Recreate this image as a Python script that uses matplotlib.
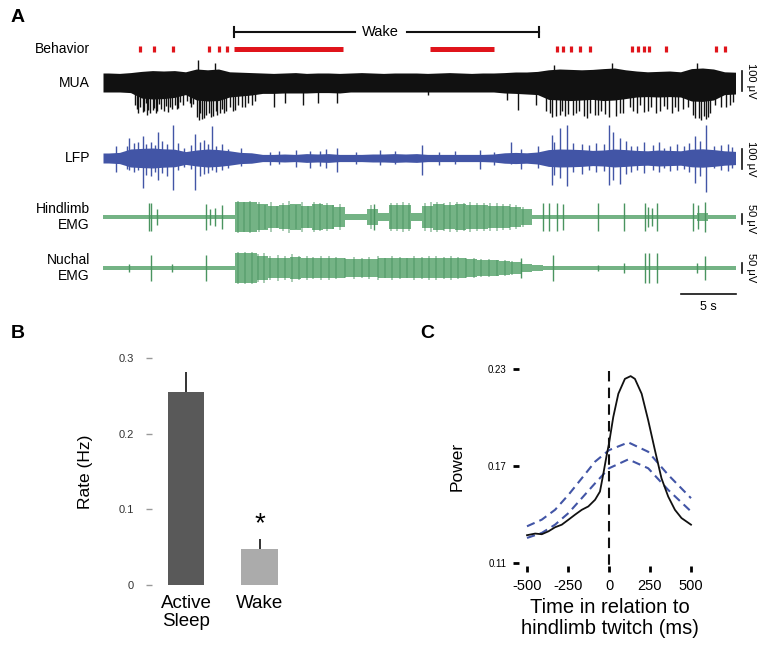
import matplotlib
matplotlib.use('Agg')
import matplotlib.pyplot as plt
import numpy as np

W, H = 764, 652

# ---------------- panel A data (time in s, amplitudes in uV) ----------------
T_END = 57.5
twitch_t = [3.4, 4.6, 6.4, 9.6, 10.5, 11.3, 41.3, 41.8, 42.5, 43.4, 44.3,
            48.1, 48.6, 49.2, 49.6, 51.2, 55.7, 56.5]
wake_start = [11.9, 29.7]
wake_end = [21.8, 35.5]
wake_span = [11.9, 39.6]

# envelopes per 1 s bin (t = 0..57)
mua_up = [50, 48, 52, 58, 62, 60, 62, 56, 70, 66, 70, 56, 54, 52,
          50, 48, 50, 52, 48, 50, 50, 48, 50, 52, 50, 48, 50, 50, 50,
          48, 50, 52, 50, 48, 50, 50, 52, 55, 55, 58,
          66, 70, 68, 66, 68, 72, 75, 66, 60, 56, 58, 60, 56, 72, 75, 70, 56, 54]
mua_dn = [45, 45, 48, 75, 80, 78, 72, 58, 85, 90, 88, 70, 65, 60,
          52, 52, 50, 50, 50, 48, 48, 50, 45, 45, 45, 45, 45, 45, 45,
          45, 45, 45, 45, 45, 45, 45, 50, 52, 55, 58,
          82, 85, 88, 85, 82, 88, 85, 78, 70, 68, 70, 68, 70, 90, 92, 85, 58, 55]
mua_spk_t = [3.2, 3.7, 4.0, 4.5, 4.8, 5.5, 6.3, 6.8, 7.3, 8.0, 8.6, 8.7, 9.2, 9.8, 10.2,
             10.4, 11.0, 11.8, 12.6, 13.5, 15.5, 16.5, 18.2, 19.5, 21.3, 29.5, 36.7, 37.7,
             39.4, 40.8, 41.0, 41.5, 42.0, 43.0, 44.0, 45.0, 46.0, 46.3, 47.0, 48.5, 49.5,
             50.3, 51.3, 52.3, 53.8, 54.0, 54.4, 55.0, 56.2, 57.0,
             2.9, 3.1, 3.4, 3.6, 3.9, 4.1, 4.3, 4.6, 4.9, 5.1, 5.3, 5.7, 5.9, 6.1, 6.5,
             6.7, 7.0, 7.6, 7.9, 8.2, 8.5, 8.8, 9.0, 9.4, 9.6, 10.0, 10.3, 10.6, 10.8,
             11.2, 11.5, 12.0, 12.3, 12.9, 13.2, 13.8,
             40.3, 40.6, 41.2, 41.7, 42.3, 42.7, 43.3, 43.7, 44.3, 44.7, 45.3, 45.6,
             46.6, 47.3, 47.9, 48.2, 48.8, 49.2, 49.8, 50.6, 51.0, 51.7, 52.0, 52.7,
             53.2, 53.6, 54.2, 54.6, 54.8, 55.2, 55.6, 56.6, 57.3]
mua_spk_a = [-150, -140, -160, -135, -150, -140, -130, -125, -110, -120, 115, -185, -175,
             -170, 100, -160, -150, -140, -120, -110, -120, -100, -110, -100, -100, -60, -85,
             -135, -110, -170, 90, -160, -165, -150, -175, -160, -170, 100, -150, -150, -140,
             -150, -130, -140, -175, 100, -185, -170, -120, -110,
             -110, -130, -120, -145, -100, -135, -150, -125, -140, -105, -130, -115, -145,
             -120, -110, -130, -95, -90, -100, -105, -170, -150, -180, -160, -150, -165,
             -140, -150, -130, -140, -120, -135, -110, -120, -100, -90,
             -140, -150, -165, -140, -155, -160, -140, -165, -150, -160, -140, -155,
             -165, -150, -120, -140, -110, -145, -120, -140, -115, -150, -120, -130,
             -120, -160, -175, -165, -180, -150, -110, -120, -95]

lfp_env = [25, 28, 45, 48, 50, 46, 44, 32, 40, 45, 42, 36, 28, 26,
           18, 18, 20, 18, 22, 20, 22, 18, 18, 18, 20, 20, 22, 20, 22,
           18, 18, 18, 18, 18, 18, 20, 26, 28, 26, 30,
           42, 45, 44, 42, 38, 40, 45, 42, 38, 36, 40, 38, 36, 44, 46, 42, 36, 33]
lfp_spk_t = [1.2, 2.4, 3.6, 4.4, 5.0, 6.4, 8.4, 9.2, 9.9, 10.8, 12.5, 18.8, 21.3, 29.0,
             34.3, 37.1, 40.8, 41.5, 42.2, 46.0, 46.4, 47.0, 48.5, 51.0, 53.8, 54.8, 55.5,
             2.2, 2.8, 3.2, 3.9, 4.7, 5.4, 5.8, 6.8, 7.4, 8.0, 8.8, 9.5, 10.3, 11.4,
             15.2, 16.0, 17.5, 19.7, 20.3, 23.0, 25.2, 26.5, 30.5, 32.0, 35.5, 38.0, 39.5,
             41.0, 42.7, 43.5, 44.2, 44.8, 45.5, 47.5, 48.0, 49.2, 50.0, 50.5, 51.5, 52.2,
             52.8, 53.3, 54.3, 56.2, 56.8, 57.2]
lfp_spk_up = [60, 100, 110, 80, 130, 165, 120, 90, 160, 70, 50, 35, 50, 65, 40, 80, 115,
              150, 165, 165, 130, 100, 60, 50, 110, 165, 60,
              60, 75, 80, 70, 65, 85, 70, 75, 50, 65, 80, 70, 60, 45,
              30, 35, 40, 35, 45, 30, 40, 35, 30, 35, 30, 45, 60,
              80, 75, 70, 65, 75, 70, 85, 60, 80, 65, 80, 60, 70,
              60, 75, 85, 65, 70, 55]
lfp_spk_dn = [-70, -60, -150, -90, -110, -160, -160, -80, -60, -60, -40, -50, -70, -85,
              -55, -30, -135, -100, -140, -135, -110, -130, -60, -50, -125, -170, -50,
              -55, -70, -60, -85, -70, -75, -90, -60, -45, -55, -90, -75, -70, -50,
              -35, -30, -45, -40, -50, -30, -35, -30, -35, -30, -35, -55, -50,
              -85, -70, -80, -60, -70, -65, -80, -70, -75, -60, -70, -65, -60,
              -55, -70, -90, -60, -65, -50]

hl_env = [10, 10, 12, 10, 10, 12, 10, 10, 10, 12, 10, 10,
          74, 74, 66, 56, 62, 66, 56, 66, 62, 52, 15, 15, 42, 18, 62, 62, 18,
          56, 66, 62, 66, 62, 62, 56, 56, 52, 38, 12,
          10, 10, 10, 10, 10, 10, 10, 10, 10, 10, 10, 10, 10, 10, 22, 10, 10, 10]
hl_spk_t = [4.2, 4.4, 4.9, 9.4, 9.7, 10.2, 10.8, 24.6, 40.0, 40.5, 41.3, 41.8, 45.0,
            47.4, 49.3, 49.5, 49.9, 50.4, 53.6, 54.1, 54.7]
hl_spk_a = [70, 70, 40, 65, 40, 45, 60, 65, 70, 70, 70, 65, 70, 70, 70, 50, 45, 70, 70,
            60, 75]
hl_burst_t = [12.3, 12.8, 13.4, 14.2, 14.7, 15.3, 15.8, 16.4, 16.9, 17.5, 18.1, 18.6, 19.2,
              19.7, 20.4, 20.9, 21.5, 24.4, 26.2, 26.7, 27.3, 27.8, 29.3, 29.8, 30.4, 31.0,
              31.5, 32.2, 32.8, 33.4, 34.0, 34.6, 35.2, 35.8, 36.4, 37.0, 37.5, 38.2]
hl_burst_a = [78, 76, 78, 76, 62, 75, 55, 72, 78, 60, 75, 55, 76, 70, 72, 60, 65, 62,
              72, 70, 75, 70, 70, 75, 76, 72, 75, 76, 72, 75, 70, 72, 68, 70, 65, 65, 60, 50]

nu_env = [10, 10, 12, 10, 10, 10, 10, 10, 10, 10, 10, 10,
          74, 74, 62, 52, 52, 55, 52, 48, 50, 48, 44, 44, 46, 48, 50, 48, 48,
          48, 52, 48, 48, 44, 38, 38, 36, 28, 20, 16,
          8, 8, 8, 8, 8, 8, 8, 8, 8, 8, 8, 8, 8, 8, 8, 8, 8, 8]
nu_spk_t = [2.4, 4.4, 6.3, 9.4, 38.0, 40.9, 45.0, 47.4, 49.3, 49.6, 50.4, 54.0, 54.7]
nu_spk_a = [20, 65, 20, 65, 50, 65, 15, 25, 75, 75, 75, 25, 60]
nu_burst_t = [12.3, 12.9, 13.5, 14.1, 14.6, 15.2, 15.9, 16.5, 17.2, 17.8, 18.5, 19.1, 19.8,
              20.5, 21.2, 22.0, 22.8, 23.5, 24.2, 25.0, 25.6, 26.3, 27.0, 27.6, 28.3, 29.0,
              29.6, 30.3, 31.0, 31.6, 32.3, 33.0, 33.7, 34.4, 35.1, 35.8, 36.5, 37.2]
nu_burst_a = [80, 78, 80, 72, 75, 62, 65, 60, 68, 62, 58, 55, 60, 58, 55, 52, 55, 50, 55,
              60, 52, 58, 55, 52, 60, 55, 62, 60, 55, 58, 55, 52, 48, 45, 45, 42, 40, 35]

# ---------------- panel B data ----------------
b_labels = ['Active\nSleep', 'Wake']
b_rate = [0.255, 0.048]
b_sem = [0.026, 0.013]

# ---------------- panel C data ----------------
c_t_black = [-500, -450, -410, -369, -329, -288, -247, -207, -166, -126, -85, -55, -34,
             -14, 0, 26, 57, 97, 132, 158, 199, 239, 280, 320, 361, 402, 442, 500]
c_black = [0.1272, 0.1282, 0.1278, 0.1296, 0.1321, 0.1337, 0.1368, 0.1399, 0.1429, 0.1450,
           0.1491, 0.1542, 0.1655, 0.1768, 0.1839, 0.2003, 0.2147, 0.2239, 0.2256, 0.2239,
           0.2147, 0.1983, 0.1798, 0.1624, 0.1511, 0.1429, 0.1378, 0.1337]
c_t_blue = [-500, -410, -329, -247, -166, -85, 0, 118, 239, 361, 500]
c_blue_hi = [0.1327, 0.1368, 0.1429, 0.1522, 0.1624, 0.1727, 0.1798, 0.1846, 0.1788,
             0.1645, 0.1501]
c_blue_lo = [0.1255, 0.1286, 0.1337, 0.1409, 0.1501, 0.1593, 0.1686, 0.1741, 0.1686,
             0.1552, 0.1419]

BLACK = '#111111'
BLUE = '#4255a6'
GREEN = '#74b385'
DGREEN = '#4a9460'
RED = '#e0141b'

plt.rcParams['font.family'] = ['Liberation Sans', 'DejaVu Sans']

fig = plt.figure(figsize=(W / 100, H / 100), dpi=100)


def fx(px):
    return px / W


def fy(py):
    return 1 - py / H


# ================= panel A =================
PXS = 11.0   # px per second
UVP = 5.0    # uV per px
A_TOP, A_BOT = 0, 320
axA = fig.add_axes([0, fy(A_BOT), 1, (A_BOT - A_TOP) / H])
axA.set_xlim(-103 / PXS, (W - 103) / PXS)
axA.set_ylim(-A_BOT * UVP, -A_TOP * UVP)
axA.axis('off')


def yp(py):
    return -py * UVP


def band(env_up, env_dn, base, color, step):
    if step:
        t = np.append(np.arange(len(env_up)), T_END)
        up = np.append(env_up, env_up[-1])
        dn = np.append(env_dn, env_dn[-1])
        axA.fill_between(t, base - dn, base + up, step='post', color=color, lw=0)
    else:
        t = np.concatenate([[0], np.arange(len(env_up)) + 0.5, [T_END]])
        up = np.concatenate([[env_up[0]], env_up, [env_up[-1]]])
        dn = np.concatenate([[env_dn[0]], env_dn, [env_dn[-1]]])
        axA.fill_between(t, base - dn, base + up, color=color, lw=0)


# wake bracket
yb = yp(32)
axA.plot([wake_span[0], 22.9], [yb, yb], color=BLACK, lw=1.5)
axA.plot([27.6, wake_span[1]], [yb, yb], color=BLACK, lw=1.5)
for xx in wake_span:
    axA.plot([xx, xx], [yb - 25, yb + 25], color=BLACK, lw=1.5)
axA.text(25.25, yb, 'Wake', ha='center', va='center', fontsize=10.5)

# behaviour
ybh = yp(49)
axA.vlines(twitch_t, ybh - 14, ybh + 14, color=RED, lw=2.3)
axA.hlines([ybh] * 2, wake_start, wake_end, color=RED, lw=3.6)

lab_x = (90 - 103) / PXS
axA.text(lab_x, ybh, 'Behavior', ha='right', va='center', fontsize=10)

# MUA
b = yp(83)
band(mua_up, mua_dn, b, BLACK, False)
axA.vlines(mua_spk_t, b, b + np.array(mua_spk_a), color=BLACK, lw=1)
axA.text(lab_x, b, 'MUA', ha='right', va='center', fontsize=10)

# LFP
b = yp(158)
band(lfp_env, lfp_env, b, BLUE, False)
axA.vlines(lfp_spk_t, b + np.array(lfp_spk_dn), b + np.array(lfp_spk_up), color=BLUE, lw=1)
axA.text(lab_x, b, 'LFP', ha='right', va='center', fontsize=10)

# Hindlimb EMG
b = yp(217)
band(hl_env, hl_env, b, GREEN, True)
axA.vlines(hl_burst_t, b - np.array(hl_burst_a), b + np.array(hl_burst_a), color=DGREEN, lw=1.2, alpha=0.55)
axA.vlines(hl_spk_t, b - np.array(hl_spk_a), b + np.array(hl_spk_a), color=DGREEN, lw=1)
axA.text(lab_x, b, 'Hindlimb\nEMG', ha='right', va='center', fontsize=10, linespacing=1.25)

# Nuchal EMG
b = yp(268)
band(nu_env, nu_env, b, GREEN, True)
axA.vlines(nu_burst_t, b - np.array(nu_burst_a), b + np.array(nu_burst_a), color=DGREEN, lw=1.2, alpha=0.55)
axA.vlines(nu_spk_t, b - np.array(nu_spk_a), b + np.array(nu_spk_a), color=DGREEN, lw=1)
axA.text(lab_x, b, 'Nuchal\nEMG', ha='right', va='center', fontsize=10, linespacing=1.25)

# amplitude scale bars
sb_x = (742 - 103) / PXS
tx_x = (751 - 103) / PXS
for cy, amp in [(81, 100), (159, 100), (219, 50), (268, 50)]:
    c = yp(cy)
    axA.plot([sb_x, sb_x], [c - amp / 2, c + amp / 2], color=BLACK, lw=1.2, clip_on=False)
    axA.text(tx_x, c, f'{amp} μV', rotation=270, ha='center', va='center', fontsize=8)

# time scale bar
axA.plot([T_END - 5, T_END], [yp(294)] * 2, color=BLACK, lw=1.2)
axA.text(T_END - 2.5, yp(307), '5 s', ha='center', va='center', fontsize=9)

fig.text(fx(11), fy(17), 'A', fontsize=14, fontweight='bold', va='center')
fig.text(fx(11), fy(333), 'B', fontsize=14, fontweight='bold', va='center')
fig.text(fx(420), fy(333), 'C', fontsize=14, fontweight='bold', va='center')

# ================= panel B =================
bl, br, bt, bb = 152, 300, 358, 585
axB = fig.add_axes([fx(bl), fy(bb), fx(br - bl), (bb - bt) / H])
xpos = np.arange(len(b_rate))
axB.bar(xpos, b_rate, width=0.5, color=['#595959', '#ababab'])
axB.errorbar(xpos, b_rate, yerr=[[0, 0], b_sem], fmt='none', ecolor=BLACK, elinewidth=1.2, capsize=0)
axB.set_xlim((bl - 186) / 73.5, (br - 186) / 73.5)
axB.set_ylim(0, 0.3)
axB.set_yticks([0, 0.1, 0.2, 0.3])
axB.set_yticklabels(['0', '0.1', '0.2', '0.3'])
axB.set_xticks(xpos)
axB.set_xticklabels(b_labels)
axB.tick_params(axis='y', length=4, width=1, color='#999999', pad=9, labelsize=8, labelcolor='#333333')
axB.tick_params(axis='x', length=0, pad=7, labelsize=13.5)
for s in axB.spines.values():
    s.set_visible(False)
axB.set_ylabel('Rate (Hz)', fontsize=12.5)
axB.yaxis.set_label_coords((93 - bl) / (br - bl), 0.5)
axB.text(1, 0.08, '*', ha='center', va='center', fontsize=20)
for lab in axB.get_xticklabels():
    lab.set_linespacing(1.1)

# ================= panel C =================
cl, cr, ct, cb = 519, 700, 366, 566
axC = fig.add_axes([fx(cl), fy(cb), fx(cr - cl), (cb - ct) / H])
pxms = 164 / 1000
pxu = 1616.7
axC.set_xlim(-500 - (527 - cl) / pxms, 500 + (cr - 691) / pxms)
axC.set_ylim(0.11 - (cb - 563) / pxu, 0.23 + (369 - ct) / pxu)
axC.plot(c_t_blue, c_blue_hi, color=BLUE, lw=1.5, dashes=(4, 2.5))
axC.plot(c_t_blue, c_blue_lo, color=BLUE, lw=1.5, dashes=(4, 2.5))
axC.plot(c_t_black, c_black, color=BLACK, lw=1.3)
axC.plot([0, 0], [0.229, 0.105], color=BLACK, lw=1.5, dashes=(5, 3), clip_on=False)
axC.set_xticks([-500, -250, 0, 250, 500])
axC.set_xticklabels(['-500', '-250', '0', '250', '500'])
axC.set_yticks([0.11, 0.17, 0.23])
axC.set_yticklabels(['0.11', '0.17', '0.23'])
for s in axC.spines.values():
    s.set_visible(False)
axC.tick_params(axis='y', length=4, width=2, pad=5, labelsize=7)
axC.tick_params(axis='x', length=4, width=2, pad=5, labelsize=10.5)
axC.set_ylabel('Power', fontsize=12.5)
axC.yaxis.set_label_coords((465 - cl) / (cr - cl), 0.5)
axC.set_xlabel('Time in relation to\nhindlimb twitch (ms)', fontsize=14.5, linespacing=1.15)
axC.xaxis.set_label_coords(0.5, (cb - 598) / (cb - ct))

fig.savefig('out.png', dpi=100)
